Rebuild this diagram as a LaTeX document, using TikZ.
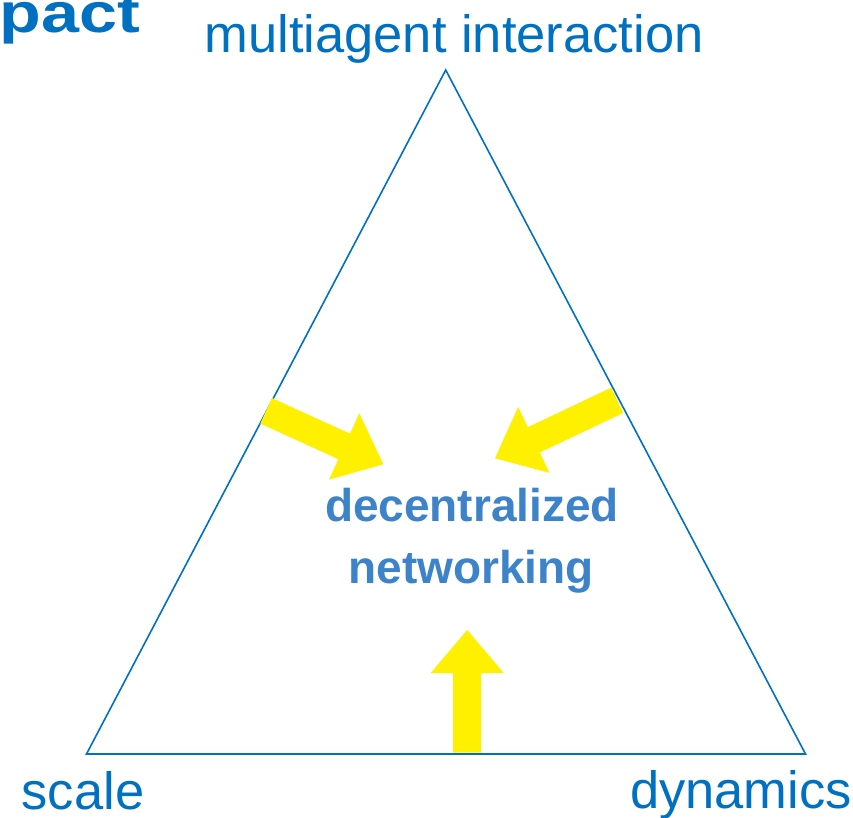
\documentclass[tikz,border=0pt]{standalone}
\usepackage{fontspec}
\setmainfont{Liberation Sans}
\usetikzlibrary{calc}

\definecolor{titleblue}{RGB}{0,112,192}
\definecolor{hubblue}{RGB}{61,131,201}
\definecolor{arrowyellow}{RGB}{255,240,0}

% block arrow from tail centre #1 to tip #2
% shaft half-width, head half-width and head length in pt
\newcommand\blockarrow[2]{%
  \fill[arrowyellow]
    ($(#1)!14pt!90:(#2)$) --
    ($($(#2)!43pt!(#1)$)!14pt!90:(#2)$) --
    ($($(#2)!43pt!(#1)$)!36.5pt!90:(#2)$) --
    (#2) --
    ($($(#2)!43pt!(#1)$)!36.5pt!-90:(#2)$) --
    ($($(#2)!43pt!(#1)$)!14pt!-90:(#2)$) --
    ($(#1)!14pt!-90:(#2)$) -- cycle;}

\begin{document}
\begin{tikzpicture}[x=1pt,y=-1pt,
  corner/.style={font=\fontsize{52.5}{60}\selectfont, text=titleblue, inner sep=0pt, anchor=base},
  hub/.style={font=\fontsize{46}{54}\selectfont\bfseries, text=hubblue, inner sep=0pt, anchor=base},
  edge/.style={draw=titleblue, line width=1.6pt, line join=miter}]
  \useasboundingbox (0,0) rectangle (853,817);

  % heading fragment
  \node[font=\fontsize{56}{64}\selectfont\bfseries, text=titleblue, inner sep=0pt, anchor=base east]
    (heading) at (140,32) {\scalebox{1.22}[1]{pact}};

  % triangle
  \coordinate (apex) at (445.7,70);
  \coordinate (right) at (805.5,754);
  \coordinate (left) at (86.5,754);
  \draw[edge] (apex) -- (right) -- (left) -- cycle;

  % vertex labels
  \node[corner] (top) at (454,52) {multiagent interaction};
  \node[corner] (scale) at (83,809) {scale};
  \node[corner] (dyn) at (741,808) {dynamics};

  % centre labels
  \node[hub] (hubA) at (472,521.7) {decentralized};
  \node[hub] (hubB) at (471,583.3) {networking};

  % yellow arrows
  \coordinate (lt) at (266.1,410.8);
  \coordinate (lp) at (383.3,464.3);
  \coordinate (rt) at (617.2,400.3);
  \coordinate (rp) at (495,458.3);
  \coordinate (bt) at (467.2,752.5);
  \coordinate (bp) at (467.2,630);
  \blockarrow{lt}{lp}
  \blockarrow{rt}{rp}
  \blockarrow{bt}{bp}
\end{tikzpicture}
\end{document}
